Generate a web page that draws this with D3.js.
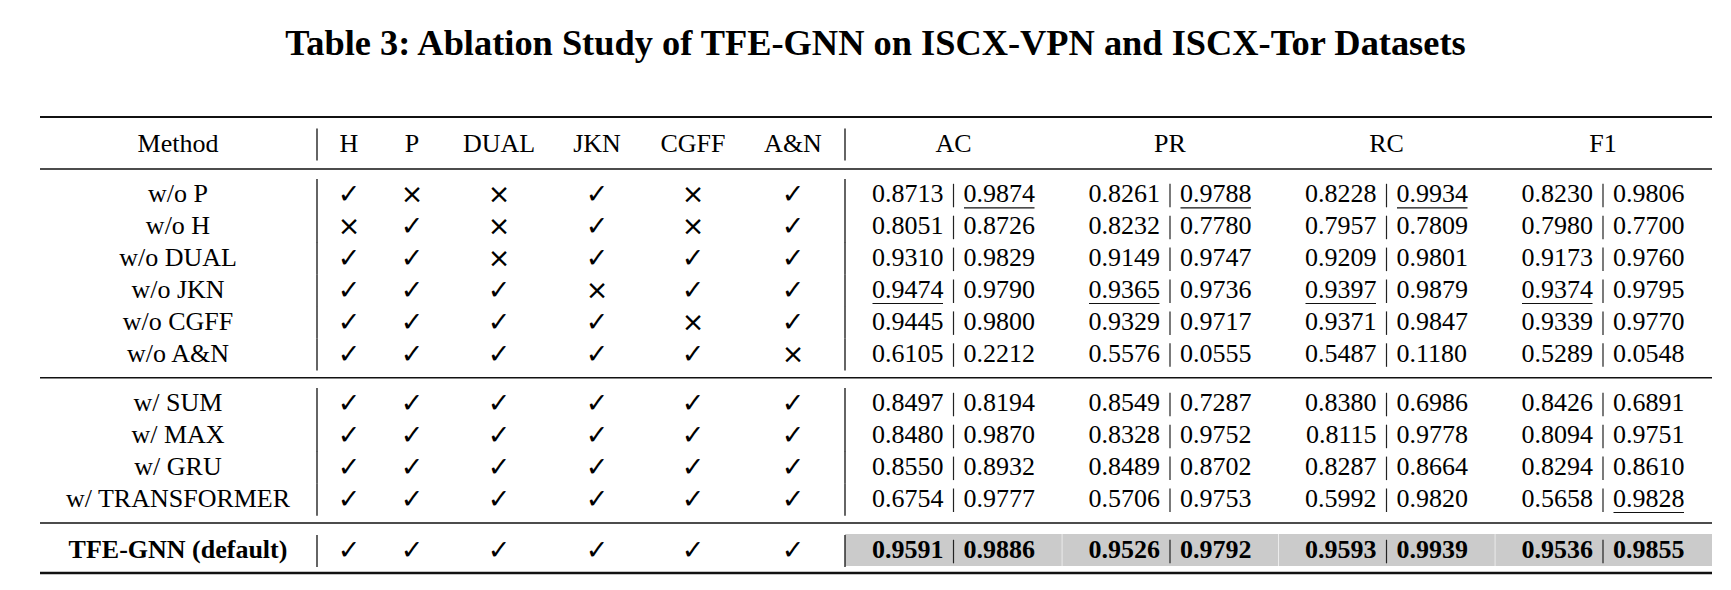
<!DOCTYPE html>
<html><head><meta charset="utf-8">
<script src="https://cdn.jsdelivr.net/npm/d3@7"></script>
<style>body{margin:0;background:#fff} svg{display:block}</style>
</head><body>
<svg id="c" width="1731" height="590"></svg>
<script>
// ---------------- DATA ----------------
const title = "Table 3: Ablation Study of TFE-GNN on ISCX-VPN and ISCX-Tor Datasets";
const headMethod = "Method";
const components = ["H", "P", "DUAL", "JKN", "CGFF", "A&N"];
const metrics = ["AC", "PR", "RC", "F1"];
const methodsA = ["w/o P", "w/o H", "w/o DUAL", "w/o JKN", "w/o CGFF", "w/o A&N"];
const flagsA = [
  [1, 0, 0, 1, 0, 1],
  [0, 1, 0, 1, 0, 1],
  [1, 1, 0, 1, 1, 1],
  [1, 1, 1, 0, 1, 1],
  [1, 1, 1, 1, 0, 1],
  [1, 1, 1, 1, 1, 0]
];
const methodsB = ["w/ SUM", "w/ MAX", "w/ GRU", "w/ TRANSFORMER"];
const flagsB = [
  [1, 1, 1, 1, 1, 1],
  [1, 1, 1, 1, 1, 1],
  [1, 1, 1, 1, 1, 1],
  [1, 1, 1, 1, 1, 1]
];
const methodDefault = "TFE-GNN (default)";
const flagsDefault = [1, 1, 1, 1, 1, 1];
// rows: methodsA (6), methodsB (4), default (1)
const acVPN = [0.8713, 0.8051, 0.9310, 0.9474, 0.9445, 0.6105, 0.8497, 0.8480, 0.8550, 0.6754, 0.9591];
const acTor = [0.9874, 0.8726, 0.9829, 0.9790, 0.9800, 0.2212, 0.8194, 0.9870, 0.8932, 0.9777, 0.9886];
const prVPN = [0.8261, 0.8232, 0.9149, 0.9365, 0.9329, 0.5576, 0.8549, 0.8328, 0.8489, 0.5706, 0.9526];
const prTor = [0.9788, 0.7780, 0.9747, 0.9736, 0.9717, 0.0555, 0.7287, 0.9752, 0.8702, 0.9753, 0.9792];
const rcVPN = [0.8228, 0.7957, 0.9209, 0.9397, 0.9371, 0.5487, 0.8380, 0.8115, 0.8287, 0.5992, 0.9593];
const rcTor = [0.9934, 0.7809, 0.9801, 0.9879, 0.9847, 0.1180, 0.6986, 0.9778, 0.8664, 0.9820, 0.9939];
const f1VPN = [0.8230, 0.7980, 0.9173, 0.9374, 0.9339, 0.5289, 0.8426, 0.8094, 0.8294, 0.5658, 0.9536];
const f1Tor = [0.9806, 0.7700, 0.9760, 0.9795, 0.9770, 0.0548, 0.6891, 0.9751, 0.8610, 0.9828, 0.9855];

// ---------------- LAYOUT ----------------
const svg = d3.select("#c");
const FONT = "'Liberation Serif', 'Times New Roman', serif";
const FS = 26;
const tableL = 40, tableR = 1712;
const barX1 = 317, barX2 = 845;
const methodX = 178;
const compX = d3.scaleOrdinal().domain(components).range([349, 412, 499, 597, 693, 793]);
const metX = d3.scaleOrdinal().domain(metrics).range([953.5, 1170, 1386.5, 1603]);
const pitch = 31.9;
const yHead = 143;
const yA = d3.scaleLinear().domain([0, 1]).range([193.5, 193.5 + pitch]);
const yB = d3.scaleLinear().domain([0, 1]).range([402.5, 402.5 + pitch]);
const yDef = 549.5;
const BL = 8.8; // baseline offset from row centre
const fmt = d3.format(".4f");

const metricData = {AC: [acVPN, acTor], PR: [prVPN, prTor], RC: [rcVPN, rcTor], F1: [f1VPN, f1Tor]};
const nNonDefault = methodsA.length + methodsB.length;

// title
const t = svg.append("text").text(title)
  .attr("x", 875.5).attr("y", 55).attr("text-anchor", "middle")
  .attr("font-family", FONT).attr("font-weight", "bold").attr("font-size", 32).attr("fill", "#000");
const tw = t.node().getComputedTextLength();
t.attr("font-size", 32 * 1181 / tw);

// rules
const rules = [
  {y: 117, w: 2.2},
  {y: 169, w: 1.4},
  {y: 377.7, w: 1.4},
  {y: 523, w: 1.6},
  {y: 573, w: 2.4}
];
svg.selectAll("line.rule").data(rules).join("line").attr("class", "rule")
  .attr("x1", tableL).attr("x2", tableR).attr("y1", d => d.y).attr("y2", d => d.y)
  .attr("stroke", "#111").attr("stroke-width", d => d.w);

// grey background for default row
metrics.forEach((m, i) => {
  const left = i === 0 ? barX2 : (metX(metrics[i - 1]) + metX(m)) / 2;
  const right = i === metrics.length - 1 ? tableR : (metX(m) + metX(metrics[i + 1])) / 2;
  svg.append("rect").attr("x", left + (i === 0 ? 0 : 0.6)).attr("width", right - left - (i === 0 ? 0 : 0.6))
    .attr("y", yDef - 15.5).attr("height", 32).attr("fill", "#cbcbcb");
});

function vbars(yc) {
  [barX1, barX2].forEach(x => {
    svg.append("line").attr("x1", x).attr("x2", x).attr("y1", yc - 14.5).attr("y2", yc + 17.5)
      .attr("stroke", "#111").attr("stroke-width", 1.3);
  });
}

function txt(s, x, y, anchor, bold) {
  return svg.append("text").text(s).attr("x", x).attr("y", y).attr("text-anchor", anchor)
    .attr("font-family", FONT).attr("font-size", FS).attr("font-weight", bold ? "bold" : "normal")
    .attr("fill", "#000");
}

// header
vbars(yHead);
txt(headMethod, methodX, yHead + BL, "middle");
components.forEach(c => txt(c, compX(c), yHead + BL, "middle"));
metrics.forEach(m => txt(m, metX(m), yHead + BL, "middle"));

function mark(v, x, yc) {
  if (v) {
    svg.append("text").text("\u2713").attr("x", x).attr("y", yc + 9.5).attr("text-anchor", "middle")
      .attr("font-family", "'DejaVu Sans', sans-serif").attr("font-size", 27).attr("fill", "#000");
  } else {
    svg.append("text").text("\u00D7").attr("x", x).attr("y", yc + 9.5).attr("text-anchor", "middle")
      .attr("font-family", "'DejaVu Sans', sans-serif").attr("font-size", 27).attr("fill", "#000");
  }
}

function row(name, flags, yc, idx, bold) {
  vbars(yc);
  txt(name, methodX, yc + BL, "middle", bold);
  components.forEach((c, j) => mark(flags[j], compX(c), yc));
  metrics.forEach(m => {
    const [vpn, tor] = metricData[m];
    const cx = metX(m);
    const base = yc + BL;
    const a = txt(fmt(vpn[idx]), cx - 10, base, "end", bold);
    const b = txt(fmt(tor[idx]), cx + 10, base, "start", bold);
    svg.append("line").attr("x1", cx).attr("x2", cx).attr("y1", base - 18.5).attr("y2", base + 5)
      .attr("stroke", "#222").attr("stroke-width", 1.2);
    // underline second-best (best among non-default rows)
    [[vpn, a], [tor, b]].forEach(([arr, el]) => {
      if (!bold && arr[idx] === d3.max(arr.slice(0, nNonDefault))) {
        const bb = el.node().getBBox();
        svg.append("line").attr("x1", bb.x + 0.5).attr("x2", bb.x + bb.width - 0.5)
          .attr("y1", base + 5.5).attr("y2", base + 5.5).attr("stroke", "#111").attr("stroke-width", 1.2);
      }
    });
  });
}

methodsA.forEach((m, i) => row(m, flagsA[i], yA(i), i, false));
methodsB.forEach((m, i) => row(m, flagsB[i], yB(i), methodsA.length + i, false));
row(methodDefault, flagsDefault, yDef, nNonDefault, true);
</script>
</body></html>
